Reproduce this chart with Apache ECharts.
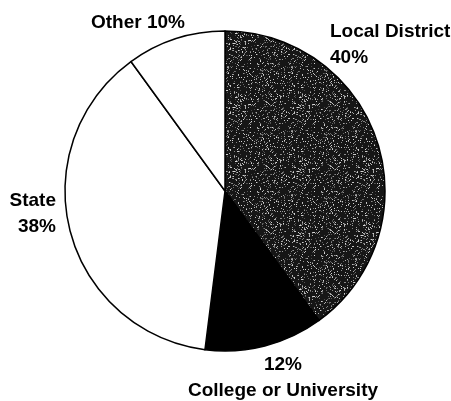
<!DOCTYPE html>
<html>
<head>
<meta charset="utf-8">
<script src="https://cdn.jsdelivr.net/npm/echarts@6/dist/echarts.min.js"></script>
<style>
  html, body { margin: 0; padding: 0; background: #fff; }
  #main { width: 451px; height: 401px; }
</style>
</head>
<body>
<div id="main"></div>
<script>
// data
var categories = ["Local District", "College or University", "State", "Other"];
var shares = [40, 12, 38, 10];

// speckled dark texture for the Local District slice (deterministic LCG, style only)
function makeSpeckle() {
  var c = document.createElement("canvas");
  c.width = 64; c.height = 64;
  var ctx = c.getContext("2d");
  ctx.fillStyle = "#161616";
  ctx.fillRect(0, 0, 64, 64);
  var seed = 7;
  function next() { seed = (seed * 1103515245 + 12345) % 2147483648; return seed / 2147483648; }
  for (var i = 0; i < 700; i++) {
    var g = Math.floor(70 + next() * 150);
    ctx.fillStyle = "rgb(" + g + "," + g + "," + g + ")";
    ctx.fillRect(Math.floor(next() * 64), Math.floor(next() * 64), 1, 1);
  }
  return c;
}

var fills = [
  { image: makeSpeckle(), repeat: "repeat" },
  "#000000",
  "#ffffff",
  "#ffffff"
];

// label placement per slice
var labelSpots = [
  { x: 330, y: 45, align: "left" },
  { x: 283, y: 378, align: "center" },
  { x: 56, y: 214, align: "right" },
  { x: 138, y: 23, align: "center" }
];
var labelTexts = [
  "Local District\n40%",
  "12%\nCollege or University",
  "State\n38%",
  "Other 10%"
];

var chart = echarts.init(document.getElementById("main"));

var seriesData = categories.map(function (name, i) {
  return {
    name: name,
    value: shares[i],
    itemStyle: { color: fills[i] }
  };
});

chart.setOption({
  animation: false,
  backgroundColor: "#ffffff",
  series: [{
    type: "pie",
    center: [225, 191],
    radius: 160,
    startAngle: 90,
    clockwise: true,
    silent: true,
    data: seriesData,
    itemStyle: { borderColor: "#000", borderWidth: 1.5 },
    label: {
      show: true,
      position: "outside",
      alignTo: "none",
      overflow: "none",
      width: 300,
      color: "#000",
      fontFamily: "Liberation Sans, Arial, sans-serif",
      fontWeight: "bold",
      fontSize: 19,
      lineHeight: 26,
      formatter: function (p) { return labelTexts[p.dataIndex]; }
    },
    labelLine: { show: false },
    labelLayout: function (p) {
      var s = labelSpots[p.dataIndex];
      return { x: s.x, y: s.y, align: s.align, verticalAlign: "middle", hideOverlap: false, moveOverlap: false };
    }
  }]
});
</script>
</body>
</html>
